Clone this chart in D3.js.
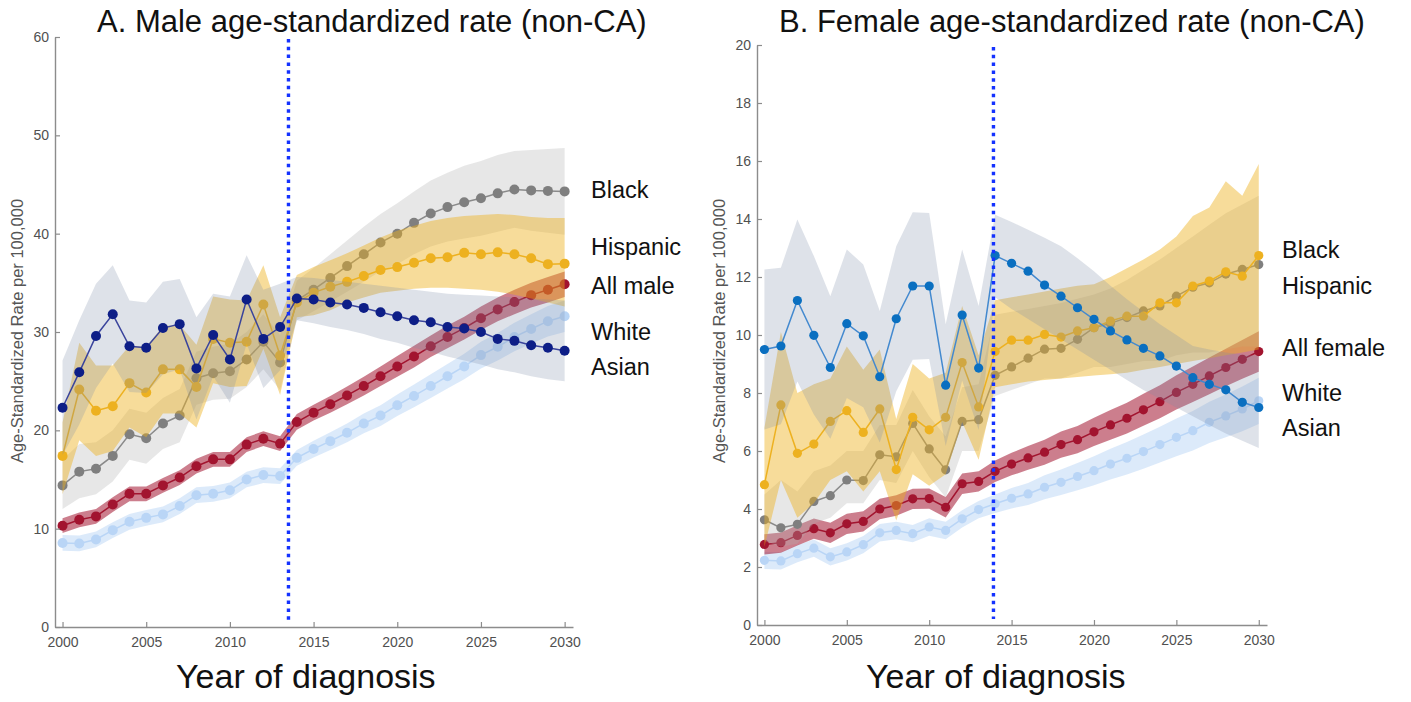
<!DOCTYPE html>
<html>
<head>
<meta charset="utf-8">
<script src="https://cdn.jsdelivr.net/npm/d3@7"></script>
<style>
  html, body { margin: 0; padding: 0; background: #ffffff; }
  svg { display: block; font-family: "Liberation Sans", Arial, Helvetica, sans-serif; }
</style>
</head>
<body>
<svg id="chart" width="1411" height="702"></svg>
<script>
// ---- categories and ticks ----
const years = [2000,2001,2002,2003,2004,2005,2006,2007,2008,2009,2010,2011,2012,2013,2014,2015,
               2016,2017,2018,2019,2020,2021,2022,2023,2024,2025,2026,2027,2028,2029,2030];
const yearTicks = [2000, 2005, 2010, 2015, 2020, 2025, 2030];
const maleTicks = [0, 10, 20, 30, 40, 50, 60];
const femaleTicks = [0, 2, 4, 6, 8, 10, 12, 14, 16, 18, 20];
const maleLabels = ["Black", "Hispanic", "All male", "White", "Asian"];
const femaleLabels = ["Black", "Hispanic", "All female", "White", "Asian"];

// ---- A: male rates (observed to 2013, projected after), with interval bounds ----
const maleWhite   = [8.55,8.5,8.9,9.85,10.7,11.1,11.45,12.3,13.4,13.55,13.9,15.0,15.45,15.35,17.2,18.1,18.9,19.75,20.7,21.5,22.55,23.5,24.5,25.5,26.5,27.65,28.5,29.5,30.3,31.1,31.6];
const maleWhiteLo = [7.75,7.7,8.1,9.05,9.9,10.3,10.65,11.5,12.6,12.75,13.1,14.2,14.65,14.55,16.4,17.25,18.0,18.8,19.7,20.45,21.45,22.35,23.3,24.25,25.2,26.3,27.1,28.05,28.8,29.55,30.0];
const maleWhiteHi = [9.35,9.3,9.7,10.65,11.5,11.9,12.25,13.1,14.2,14.35,14.7,15.8,16.25,16.15,18.0,18.95,19.8,20.7,21.7,22.55,23.65,24.65,25.7,26.75,27.8,29.0,29.9,30.95,31.8,32.65,33.2];

const maleAll   = [10.3,10.9,11.25,12.45,13.55,13.55,14.4,15.2,16.35,17.05,17.05,18.55,19.15,18.65,20.85,21.8,22.65,23.55,24.5,25.5,26.5,27.5,28.55,29.5,30.4,31.4,32.3,33.05,33.75,34.3,34.85];
const maleAllLo = [9.55,10.15,10.5,11.7,12.8,12.8,13.65,14.45,15.6,16.3,16.3,17.8,18.4,17.9,20.05,21.0,21.8,22.65,23.55,24.5,25.45,26.4,27.45,28.35,29.25,30.2,31.1,31.8,32.5,33.0,33.55];
const maleAllHi = [11.05,11.65,12.0,13.2,14.3,14.3,15.15,15.95,17.1,17.8,17.8,19.3,19.9,19.4,21.65,22.6,23.5,24.45,25.45,26.5,27.55,28.6,29.65,30.65,31.55,32.6,33.5,34.3,35.0,35.6,36.15];

const maleBlack   = [14.4,15.8,16.1,17.4,19.6,19.2,20.7,21.5,25.3,25.8,26.0,27.2,29.0,26.9,33.2,34.3,35.5,36.7,37.9,39.1,40.0,41.1,42.05,42.7,43.2,43.6,44.1,44.5,44.4,44.35,44.3];
const maleBlackLo = [12.0,13.1,13.5,14.8,17.0,16.6,18.1,18.8,22.6,23.1,23.2,24.4,26.2,24.1,31.2,32.1,33.1,34.1,35.1,36.2,36.9,37.9,38.7,39.2,39.5,39.8,40.2,40.6,40.3,40.1,39.9];
const maleBlackHi = [17.0,18.6,18.8,20.0,22.2,21.8,23.3,24.2,28.0,28.5,28.8,30.0,31.8,29.7,35.2,36.5,37.9,39.3,40.7,42.0,43.1,44.3,45.4,46.2,46.9,47.4,48.0,48.4,48.5,48.6,48.7];

const maleHispanic   = [17.4,24.15,22.0,22.45,24.8,23.85,26.2,26.2,24.4,29.3,28.9,29.0,32.8,27.6,33.0,34.0,34.6,35.1,35.7,36.3,36.6,37.05,37.5,37.6,38.05,37.9,38.1,37.9,37.5,36.9,36.95];
const maleHispanicLo = [13.5,19.0,17.4,17.9,20.3,19.3,21.7,21.7,20.3,24.8,24.4,24.5,28.3,23.6,31.5,31.7,32.2,33.0,33.5,34.0,34.2,34.4,34.5,34.5,34.4,34.3,34.1,33.8,33.4,33.0,32.6];
const maleHispanicHi = [20.8,28.9,26.6,26.6,28.6,28.5,30.6,30.7,28.7,33.6,33.3,33.2,36.8,31.5,35.8,36.6,37.3,38.0,38.8,39.6,40.3,40.8,41.3,41.6,41.8,41.9,42.0,41.9,41.7,41.6,41.6];

const maleAsian   = [22.3,25.9,29.6,31.8,28.55,28.4,30.4,30.8,26.3,29.7,27.2,33.3,29.3,30.5,33.4,33.3,33.0,32.8,32.45,32.0,31.6,31.2,31.0,30.5,30.35,30.0,29.3,29.1,28.65,28.4,28.1];
const maleAsianLo = [17.5,20.6,24.3,26.8,23.9,23.8,25.7,26.2,21.1,25.5,22.8,28.8,24.3,26.1,31.2,30.9,30.5,30.2,29.8,29.3,28.9,28.4,28.0,27.5,27.1,26.7,26.2,25.9,25.5,25.2,25.0];
const maleAsianHi = [27.1,31.2,34.9,36.8,33.2,33.0,35.1,35.4,31.5,33.9,33.6,37.8,34.3,34.9,35.6,35.5,35.3,35.1,34.9,34.7,34.5,34.3,34.1,33.9,33.8,33.7,33.6,33.5,33.4,33.3,33.2];

// ---- B: female rates ----
const femaleWhite   = [2.23,2.21,2.46,2.65,2.35,2.52,2.77,3.18,3.26,3.15,3.38,3.26,3.66,3.98,4.18,4.37,4.52,4.75,4.92,5.12,5.32,5.55,5.75,5.98,6.22,6.47,6.7,6.99,7.21,7.45,7.73];
const femaleWhiteLo = [1.93,1.91,2.16,2.35,2.05,2.22,2.47,2.88,2.96,2.85,3.08,2.96,3.36,3.68,3.86,4.02,4.14,4.34,4.48,4.65,4.82,5.02,5.19,5.39,5.6,5.82,6.02,6.28,6.47,6.68,6.93];
const femaleWhiteHi = [2.53,2.51,2.76,2.95,2.65,2.82,3.07,3.48,3.56,3.45,3.68,3.56,3.96,4.28,4.5,4.72,4.9,5.16,5.36,5.59,5.82,6.08,6.31,6.57,6.84,7.12,7.38,7.7,7.95,8.22,8.53];

const femaleAll   = [2.78,2.84,3.09,3.32,3.18,3.49,3.57,4.0,4.12,4.35,4.36,4.06,4.87,4.95,5.3,5.55,5.76,5.96,6.22,6.39,6.66,6.9,7.13,7.42,7.7,8.02,8.3,8.59,8.88,9.16,9.43];
const femaleAllLo = [2.43,2.49,2.74,2.97,2.83,3.14,3.22,3.65,3.77,4.0,4.01,3.71,4.52,4.6,4.93,5.16,5.35,5.53,5.77,5.92,6.17,6.39,6.6,6.87,7.13,7.43,7.69,7.96,8.23,8.49,8.73];
const femaleAllHi = [3.13,3.19,3.44,3.67,3.53,3.84,3.92,4.35,4.47,4.7,4.71,4.41,5.22,5.3,5.67,5.94,6.17,6.39,6.67,6.86,7.15,7.41,7.66,7.97,8.27,8.61,8.91,9.22,9.53,9.83,10.13];

const femaleBlack   = [3.63,3.35,3.47,4.26,4.46,5.0,4.98,5.87,5.8,6.95,6.07,5.35,7.02,7.08,8.61,8.9,9.2,9.51,9.54,9.85,10.25,10.4,10.6,10.83,11.0,11.34,11.65,11.8,12.1,12.26,12.43];
const femaleBlackLo = [2.9,2.7,2.8,3.5,3.7,4.2,4.2,5.0,4.9,6.0,5.1,4.4,6.0,6.0,7.9,8.1,8.3,8.5,8.5,8.7,8.9,8.9,9.0,9.1,9.1,9.3,9.4,9.4,9.5,9.6,9.6];
const femaleBlackHi = [4.5,5.0,4.6,5.3,5.5,6.0,6.0,6.9,6.9,8.1,7.2,6.5,8.2,8.3,10.7,10.8,10.9,11.0,11.1,11.25,11.4,11.6,11.9,12.25,12.6,13.0,13.4,13.8,14.2,14.5,14.8];

const femaleHispanic   = [4.84,7.59,5.92,6.24,7.02,7.39,6.64,7.45,5.36,7.16,6.73,7.16,9.05,7.52,9.43,9.82,9.82,10.02,9.93,10.14,10.25,10.48,10.65,10.65,11.11,11.11,11.69,11.86,12.18,12.03,12.74];
const femaleHispanicLo = [2.7,5.0,3.7,4.2,5.0,5.3,4.6,5.3,3.6,5.2,4.8,5.2,7.0,5.7,8.2,8.3,8.4,8.45,8.5,8.55,8.6,8.65,8.7,8.8,8.9,9.0,9.1,9.2,9.3,9.4,9.5];
const femaleHispanicHi = [6.8,10.1,8.0,8.3,8.5,9.6,8.8,9.5,7.1,9.0,8.5,8.7,11.0,9.3,11.2,11.3,11.4,11.5,11.6,11.7,11.75,12.0,12.3,12.6,12.95,13.4,14.1,14.4,15.3,14.8,15.9];

const femaleAsian   = [9.5,9.62,11.19,9.99,8.88,10.39,9.97,8.56,10.56,11.69,11.69,8.27,10.69,8.86,12.74,12.47,12.2,11.72,11.34,10.94,10.54,10.14,9.83,9.54,9.28,8.93,8.53,8.3,8.11,7.68,7.5];
const femaleAsianLo = [6.74,6.92,8.4,7.26,6.42,7.83,7.51,6.29,8.06,9.15,9.17,6.17,8.43,6.72,11.3,10.9,10.55,10.2,9.85,9.5,9.15,8.8,8.45,8.1,7.8,7.5,7.2,6.9,6.6,6.35,6.1];
const femaleAsianHi = [12.26,12.32,13.98,12.72,11.34,12.95,12.43,10.83,13.06,14.23,14.21,10.37,12.95,11.0,14.15,13.9,13.63,13.35,13.06,12.65,12.2,11.7,11.23,10.8,10.37,10.0,9.62,9.5,9.4,9.33,9.28];

// ---- styling for each group (drawn in this order; later bands tint earlier marks) ----
const styles = {
  white:    { mark: "#b9d5f6", line: "#b9d5f6", band: "#96bef0", bandOpacity: 0.33 },
  all:      { mark: "#a2142f", line: "#a2142f", band: "#a2142f", bandOpacity: 0.55 },
  black:    { mark: "#7f7f7f", line: "#8a8a8a", band: "#b0b0b0", bandOpacity: 0.30 },
  hispanic: { mark: "#edb120", line: "#edb120", band: "#edb120", bandOpacity: 0.45 },
  asianM:   { mark: "#0d1e87", line: "#3a449c", band: "#7a8aa8", bandOpacity: 0.25 },
  asianF:   { mark: "#0a6fc0", line: "#4389cf", band: "#7a8aa8", bandOpacity: 0.25 }
};

const panels = [
  {
    title: "A. Male age-standardized rate (non-CA)", titleX: 97,
    left: 55, right: 573, top: 37, bottom: 627, yMax: 60, yTicks: maleTicks,
    cutYear: 2013.5, r: 5,
    labelX: 591, labelYs: [190, 247, 286, 332, 367], labels: maleLabels,
    xTitleX: 176, yTitleX: 18,
    series: [
      { v: maleWhite, lo: maleWhiteLo, hi: maleWhiteHi, s: styles.white },
      { v: maleAll, lo: maleAllLo, hi: maleAllHi, s: styles.all },
      { v: maleBlack, lo: maleBlackLo, hi: maleBlackHi, s: styles.black },
      { v: maleHispanic, lo: maleHispanicLo, hi: maleHispanicHi, s: styles.hispanic },
      { v: maleAsian, lo: maleAsianLo, hi: maleAsianHi, s: styles.asianM }
    ]
  },
  {
    title: "B. Female age-standardized rate (non-CA)", titleX: 779,
    left: 757, right: 1267, top: 45, bottom: 625, yMax: 20, yTicks: femaleTicks,
    cutYear: 2013.9, r: 4.6,
    labelX: 1282, labelYs: [250, 286, 348, 393, 428], labels: femaleLabels,
    xTitleX: 866, yTitleX: 720,
    series: [
      { v: femaleWhite, lo: femaleWhiteLo, hi: femaleWhiteHi, s: styles.white },
      { v: femaleAll, lo: femaleAllLo, hi: femaleAllHi, s: styles.all },
      { v: femaleBlack, lo: femaleBlackLo, hi: femaleBlackHi, s: styles.black },
      { v: femaleHispanic, lo: femaleHispanicLo, hi: femaleHispanicHi, s: styles.hispanic },
      { v: femaleAsian, lo: femaleAsianLo, hi: femaleAsianHi, s: styles.asianF }
    ]
  }
];

const svg = d3.select("#chart");
const axisColor = "#8c8c8c";
const tickText = "#505050";

panels.forEach(p => {
  const x = d3.scaleLinear().domain([1999.55, 2030.5]).range([p.left, p.right]);
  const y = d3.scaleLinear().domain([0, p.yMax]).range([p.bottom, p.top]);
  const g = svg.append("g");

  // bands, lines and markers, one group at a time
  p.series.forEach(se => {
    const rows = years.map((yr, i) => ({ yr, v: se.v[i], lo: se.lo[i], hi: se.hi[i] }));
    g.append("path")
      .datum(rows)
      .attr("d", d3.area().x(d => x(d.yr)).y0(d => y(d.lo)).y1(d => y(d.hi)))
      .attr("fill", se.s.band)
      .attr("fill-opacity", se.s.bandOpacity)
      .attr("stroke", "none");
    g.append("path")
      .datum(rows)
      .attr("d", d3.line().x(d => x(d.yr)).y(d => y(d.v)))
      .attr("fill", "none")
      .attr("stroke", se.s.line)
      .attr("stroke-width", 1.5);
    g.append("g").selectAll("circle")
      .data(rows)
      .join("circle")
      .attr("cx", d => x(d.yr))
      .attr("cy", d => y(d.v))
      .attr("r", p.r)
      .attr("fill", se.s.mark);
  });

  // axes with inward ticks
  const xAxis = d3.axisBottom(x).tickValues(yearTicks).tickFormat(d3.format("d"))
    .tickSizeInner(-5).tickSizeOuter(0).tickPadding(10);
  const yAxis = d3.axisLeft(y).tickValues(p.yTicks)
    .tickSizeInner(-5).tickSizeOuter(0).tickPadding(6);

  const gx = g.append("g").attr("transform", `translate(0,${p.bottom})`).call(xAxis);
  const gy = g.append("g").attr("transform", `translate(${p.left},0)`).call(yAxis);
  [gx, gy].forEach(a => {
    a.select(".domain").attr("stroke", axisColor).attr("stroke-width", 1.4);
    a.selectAll(".tick line").attr("stroke", axisColor).attr("stroke-width", 1.2);
    a.selectAll(".tick text").attr("fill", tickText).attr("font-size", 14)
      .attr("font-family", "Liberation Sans, Arial, sans-serif");
  });

  // projection start marker
  g.append("line")
    .attr("x1", x(p.cutYear)).attr("x2", x(p.cutYear))
    .attr("y1", p.top + 2).attr("y2", p.bottom - 6)
    .attr("stroke", "#1432ff")
    .attr("stroke-width", 3.4)
    .attr("stroke-dasharray", "3.5,4.3");

  // titles
  g.append("text")
    .attr("x", p.titleX).attr("y", 32)
    .attr("font-size", 31).attr("fill", "#111")
    .text(p.title);
  g.append("text")
    .attr("x", p.xTitleX).attr("y", 688)
    .attr("font-size", 34).attr("fill", "#111")
    .text("Year of diagnosis");
  g.append("text")
    .attr("transform", `translate(${p.yTitleX + 5},331) rotate(-90)`)
    .attr("text-anchor", "middle")
    .attr("font-size", 16.5).attr("fill", "#555")
    .text("Age-Standardized Rate per 100,000");

  // group names at the right
  g.append("g").selectAll("text")
    .data(p.labels)
    .join("text")
    .attr("x", p.labelX)
    .attr("y", (d, i) => p.labelYs[i])
    .attr("dy", "0.35em")
    .attr("font-size", 23.5)
    .attr("fill", "#111")
    .text(d => d);
});
</script>
</body>
</html>
